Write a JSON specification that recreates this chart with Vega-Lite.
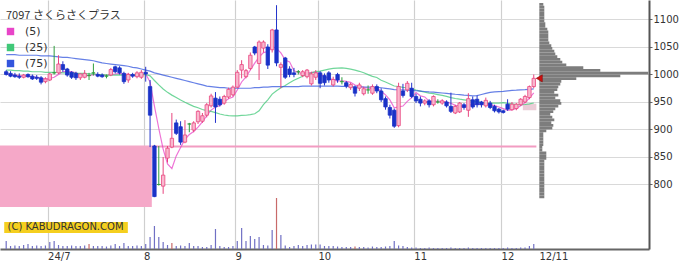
{
"$schema": "https://vega.github.io/schema/vega-lite/v6.json",
"width": 649, "height": 249,
"autosize": "none",
"padding": {"left": 0, "top": 0, "right": 43, "bottom": 20},
"background": "white",
"config": {"view": {"stroke": null}, "font": "DejaVu Sans", "scale": {"continuousPadding": 0}},
"title": {"text": "7097 さくらさくプラス", "anchor": "start", "orient": "top", "offset": -21, "dx": 6, "font": "Noto Sans CJK JP", "fontSize": 11, "fontWeight": "normal", "color": "#333333", "frame": "group"},
"datasets": {
"k": [
{"i":0,"d":"06-17","o":1005,"h":1008,"l":998,"c":1000,"v":80,"m5":1001,"m25":1008,"m75":1036},
{"i":1,"d":"06-18","o":1002,"h":1006,"l":995,"c":997,"v":30,"m5":1000,"m25":1008,"m75":1036},
{"i":2,"d":"06-19","o":999,"h":1003,"l":994,"c":996,"v":35,"m5":999,"m25":1007,"m75":1036},
{"i":3,"d":"06-20","o":997,"h":1002,"l":992,"c":995,"v":30,"m5":998,"m25":1007,"m75":1035},
{"i":4,"d":"06-21","o":995,"h":1001,"l":993,"c":999,"v":40,"m5":997.4,"m25":1006,"m75":1035},
{"i":5,"d":"06-24","o":1000,"h":1002,"l":994,"c":996,"v":50,"m5":996.6,"m25":1006,"m75":1035},
{"i":6,"d":"06-25","o":997,"h":1000,"l":990,"c":992,"v":30,"m5":995.6,"m25":1005,"m75":1035},
{"i":7,"d":"06-26","o":995,"h":999,"l":990,"c":993,"v":35,"m5":995,"m25":1005,"m75":1035},
{"i":8,"d":"06-27","o":994,"h":997,"l":982,"c":986,"v":30,"m5":993.2,"m25":1005,"m75":1034},
{"i":9,"d":"06-28","o":987,"h":995,"l":984,"c":992,"v":35,"m5":991.8,"m25":1004,"m75":1034},
{"i":10,"d":"07-01","o":990,"h":1003,"l":988,"c":1001,"v":70,"m5":992.8,"m25":1004,"m75":1034},
{"i":11,"d":"07-02","o":1003,"h":1052,"l":1000,"c":1003,"v":80,"m5":995,"m25":1004,"m75":1033},
{"i":12,"d":"07-03","o":1003,"h":1035,"l":1001,"c":1019,"v":40,"m5":1000.2,"m25":1004,"m75":1032},
{"i":13,"d":"07-04","o":1018,"h":1024,"l":1005,"c":1009,"v":30,"m5":1004.8,"m25":1003,"m75":1031},
{"i":14,"d":"07-05","o":1010,"h":1012,"l":996,"c":999,"v":30,"m5":1006.2,"m25":1003,"m75":1031},
{"i":15,"d":"07-08","o":1004,"h":1006,"l":992,"c":995,"v":35,"m5":1005,"m25":1003,"m75":1030},
{"i":16,"d":"07-09","o":1002,"h":1005,"l":990,"c":994,"v":30,"m5":1003.2,"m25":1002,"m75":1029},
{"i":17,"d":"07-10","o":994,"h":1002,"l":990,"c":1001,"v":30,"m5":999.6,"m25":1002,"m75":1028},
{"i":18,"d":"07-11","o":995,"h":1008,"l":993,"c":1002,"v":35,"m5":998.2,"m25":1002,"m75":1027},
{"i":19,"d":"07-12","o":998,"h":1003,"l":990,"c":998,"v":50,"f":1,"m5":998,"m25":1001,"m75":1026},
{"i":20,"d":"07-16","o":1003,"h":1020,"l":998,"c":1003,"v":30,"m5":999.6,"m25":1001,"m75":1025},
{"i":21,"d":"07-17","o":1000,"h":1004,"l":995,"c":997,"v":30,"m5":1000.2,"m25":1000,"m75":1023},
{"i":22,"d":"07-18","o":999,"h":1002,"l":994,"c":996,"v":30,"m5":999.2,"m25":1000,"m75":1021},
{"i":23,"d":"07-19","o":997,"h":1000,"l":993,"c":997,"v":25,"m5":998.2,"m25":999,"m75":1020},
{"i":24,"d":"07-22","o":999,"h":1012,"l":997,"c":1009,"v":35,"m5":1000.4,"m25":998.8,"m75":1019},
{"i":25,"d":"07-23","o":1014,"h":1016,"l":1002,"c":1005,"v":50,"m5":1000.8,"m25":999,"m75":1018},
{"i":26,"d":"07-24","o":1012,"h":1015,"l":1000,"c":1003,"v":30,"m5":1002,"m25":999.2,"m75":1017},
{"i":27,"d":"07-25","o":1002,"h":1005,"l":983,"c":987,"v":60,"m5":1000.2,"m25":998.8,"m75":1016},
{"i":28,"d":"07-26","o":990,"h":1003,"l":985,"c":1000,"v":30,"m5":1000.8,"m25":999,"m75":1015},
{"i":29,"d":"07-29","o":1000,"h":1003,"l":994,"c":997,"v":30,"m5":998.4,"m25":999,"m75":1013},
{"i":30,"d":"07-30","o":996,"h":1006,"l":993,"c":1003,"v":35,"m5":998,"m25":999.2,"m75":1012},
{"i":31,"d":"07-31","o":995,"h":1008,"l":992,"c":1004,"v":30,"m5":998.2,"m25":999.7,"m75":1010},
{"i":32,"d":"08-01","o":1004,"h":1014,"l":987,"c":1001,"v":50,"m5":1001,"m25":1000,"m75":1008},
{"i":33,"d":"08-02","o":978,"h":990,"l":868,"c":926,"v":120,"m5":986.2,"m25":997.6,"m75":1006},
{"i":34,"d":"08-05","o":870,"h":872,"l":777,"c":778,"v":230,"m5":942.4,"m25":989.1,"m75":1003},
{"i":35,"d":"08-06","o":800,"h":870,"l":798,"c":800,"v":120,"m5":901.8,"m25":981,"m75":1001},
{"i":36,"d":"08-07","o":797,"h":850,"l":783,"c":817,"v":70,"m5":864.4,"m25":973.6,"m75":999},
{"i":37,"d":"08-08","o":848,"h":870,"l":840,"c":866,"v":40,"m5":837.4,"m25":967.5,"m75":997},
{"i":38,"d":"08-09","o":868,"h":930,"l":866,"c":884,"v":60,"f":1,"m5":829,"m25":962.5,"m75":995},
{"i":39,"d":"08-13","o":912,"h":918,"l":890,"c":893,"v":30,"m5":852,"m25":958.2,"m75":993},
{"i":40,"d":"08-14","o":905,"h":915,"l":872,"c":877,"v":35,"m5":867.4,"m25":953.5,"m75":991},
{"i":41,"d":"08-15","o":877,"h":917,"l":875,"c":890,"v":30,"m5":882,"m25":949.4,"m75":989},
{"i":42,"d":"08-16","o":910,"h":912,"l":895,"c":910,"v":60,"m5":890.8,"m25":945.7,"m75":987},
{"i":43,"d":"08-19","o":899,"h":915,"l":895,"c":912,"v":30,"m5":896.4,"m25":942.1,"m75":985},
{"i":44,"d":"08-20","o":914,"h":935,"l":910,"c":933,"v":30,"m5":904.4,"m25":939.5,"m75":983},
{"i":45,"d":"08-21","o":915,"h":930,"l":912,"c":925,"v":20,"m5":914,"m25":936.4,"m75":981},
{"i":46,"d":"08-22","o":926,"h":948,"l":922,"c":945,"v":20,"m5":925,"m25":934.3,"m75":979},
{"i":47,"d":"08-23","o":943,"h":965,"l":940,"c":961,"v":40,"m5":935.2,"m25":932.9,"m75":978},
{"i":48,"d":"08-26","o":957,"h":968,"l":912,"c":941,"v":200,"m5":941,"m25":930.7,"m75":977},
{"i":49,"d":"08-27","o":955,"h":960,"l":942,"c":945,"v":30,"m5":943.4,"m25":928.1,"m75":976},
{"i":50,"d":"08-28","o":948,"h":963,"l":945,"c":960,"v":20,"m5":950.4,"m25":926.3,"m75":976},
{"i":51,"d":"08-29","o":959,"h":976,"l":956,"c":973,"v":20,"m5":956,"m25":925.1,"m75":975},
{"i":52,"d":"08-30","o":963,"h":980,"l":960,"c":977,"v":30,"m5":959.2,"m25":924.7,"m75":975},
{"i":53,"d":"09-02","o":977,"h":1008,"l":975,"c":1004,"v":80,"m5":971.8,"m25":924.9,"m75":975},
{"i":54,"d":"09-03","o":1008,"h":1026,"l":993,"c":1018,"v":210,"m5":986.4,"m25":925.7,"m75":975},
{"i":55,"d":"09-04","o":996,"h":1010,"l":993,"c":1007,"v":80,"m5":995.8,"m25":925.9,"m75":975},
{"i":56,"d":"09-05","o":1011,"h":1040,"l":1008,"c":1035,"v":130,"m5":1008.2,"m25":927.1,"m75":975},
{"i":57,"d":"09-06","o":1050,"h":1052,"l":1035,"c":1039,"v":100,"m5":1020.6,"m25":928.6,"m75":976},
{"i":58,"d":"09-09","o":1020,"h":1062,"l":990,"c":1059,"v":120,"m5":1031.6,"m25":934,"m75":976},
{"i":59,"d":"09-10","o":1048,"h":1062,"l":1040,"c":1059,"v":40,"m5":1039.8,"m25":945.2,"m75":977},
{"i":60,"d":"09-11","o":1050,"h":1055,"l":1010,"c":1017,"v":35,"m5":1041.8,"m25":953.9,"m75":977},
{"i":61,"d":"09-12","o":1045,"h":1083,"l":1040,"c":1081,"v":190,"m5":1051,"m25":964.4,"m75":978},
{"i":62,"d":"09-13","o":1081,"h":1126,"l":1015,"c":1021,"v":510,"f":1,"m5":1047.4,"m25":970.6,"m75":978},
{"i":63,"d":"09-17","o":1013,"h":1022,"l":975,"c":1018,"v":140,"m5":1039.2,"m25":976,"m75":978},
{"i":64,"d":"09-18","o":1030,"h":1032,"l":992,"c":995,"v":35,"m5":1026.4,"m25":980.1,"m75":978},
{"i":65,"d":"09-19","o":1010,"h":1015,"l":995,"c":1000,"v":20,"m5":1023,"m25":985,"m75":978},
{"i":66,"d":"09-20","o":1003,"h":1012,"l":995,"c":1000,"v":30,"m5":1006.8,"m25":989.4,"m75":978},
{"i":67,"d":"09-24","o":1005,"h":1008,"l":1000,"c":1005,"v":40,"m5":1003.6,"m25":993.2,"m75":978},
{"i":68,"d":"09-25","o":998,"h":1008,"l":995,"c":1005,"v":30,"m5":1001,"m25":996.9,"m75":979},
{"i":69,"d":"09-26","o":996,"h":1010,"l":993,"c":1008,"v":40,"m5":1003.6,"m25":999.9,"m75":979},
{"i":70,"d":"09-27","o":983,"h":1005,"l":980,"c":1001,"v":45,"m5":1003.8,"m25":1003,"m75":979},
{"i":71,"d":"09-30","o":995,"h":1008,"l":990,"c":1003,"v":45,"m5":1004.4,"m25":1005.3,"m75":979},
{"i":72,"d":"10-01","o":1003,"h":1006,"l":975,"c":984,"v":45,"m5":1000.2,"m25":1006.2,"m75":979},
{"i":73,"d":"10-02","o":998,"h":1002,"l":980,"c":985,"v":30,"m5":996.2,"m25":1008,"m75":979},
{"i":74,"d":"10-03","o":1003,"h":1006,"l":985,"c":990,"v":30,"m5":992.6,"m25":1009.8,"m75":978.9},
{"i":75,"d":"10-04","o":981,"h":996,"l":978,"c":991,"v":30,"m5":990.6,"m25":1011,"m75":978.8},
{"i":76,"d":"10-07","o":1000,"h":1003,"l":985,"c":990,"v":25,"m5":988,"m25":1011.7,"m75":978.7},
{"i":77,"d":"10-08","o":987,"h":995,"l":982,"c":987,"v":20,"m5":988.6,"m25":1012.1,"m75":978.5},
{"i":78,"d":"10-09","o":985,"h":988,"l":975,"c":979,"v":20,"m5":987.4,"m25":1011.1,"m75":978.3},
{"i":79,"d":"10-10","o":976,"h":985,"l":972,"c":982,"v":20,"m5":985.8,"m25":1009.6,"m75":978.1},
{"i":80,"d":"10-11","o":977,"h":980,"l":960,"c":966,"v":25,"f":1,"m5":980.8,"m25":1008,"m75":977.7},
{"i":81,"d":"10-15","o":975,"h":985,"l":970,"c":981,"v":20,"m5":979,"m25":1005.8,"m75":977.6},
{"i":82,"d":"10-16","o":965,"h":978,"l":962,"c":974,"v":20,"m5":976.4,"m25":1003.2,"m75":977.3},
{"i":83,"d":"10-17","o":972,"h":980,"l":965,"c":972,"v":15,"m5":975,"m25":999.8,"m75":977.1},
{"i":84,"d":"10-18","o":966,"h":982,"l":963,"c":978,"v":25,"m5":974.2,"m25":996.5,"m75":976.9},
{"i":85,"d":"10-21","o":978,"h":982,"l":966,"c":970,"v":20,"m5":975,"m25":994.6,"m75":976.5},
{"i":86,"d":"10-22","o":970,"h":975,"l":950,"c":954,"v":20,"m5":969.6,"m25":989.6,"m75":975.9},
{"i":87,"d":"10-23","o":956,"h":960,"l":936,"c":941,"v":25,"m5":963,"m25":986.4,"m75":974.8},
{"i":88,"d":"10-24","o":940,"h":945,"l":920,"c":926,"v":30,"m5":953.8,"m25":982.7,"m75":973.7},
{"i":89,"d":"10-25","o":935,"h":938,"l":903,"c":906,"v":80,"m5":939.4,"m25":979.1,"m75":972.5},
{"i":90,"d":"10-28","o":907,"h":985,"l":904,"c":978,"v":35,"m5":941,"m25":978.2,"m75":972.3},
{"i":91,"d":"10-29","o":970,"h":983,"l":958,"c":962,"v":30,"m5":942.6,"m25":976.7,"m75":971.8},
{"i":92,"d":"10-30","o":972,"h":988,"l":968,"c":984,"v":20,"m5":951.2,"m25":975.9,"m75":971.6},
{"i":93,"d":"10-31","o":975,"h":985,"l":957,"c":960,"v":15,"m5":958,"m25":974.1,"m75":971},
{"i":94,"d":"11-01","o":960,"h":965,"l":948,"c":952,"v":15,"m5":967.2,"m25":971.8,"m75":970.4},
{"i":95,"d":"11-05","o":955,"h":960,"l":942,"c":948,"v":10,"m5":961.2,"m25":969.7,"m75":969.7},
{"i":96,"d":"11-06","o":948,"h":955,"l":944,"c":952,"v":10,"m5":959.2,"m25":967.7,"m75":969.1},
{"i":97,"d":"11-07","o":952,"h":955,"l":940,"c":945,"v":15,"m5":951.4,"m25":966.1,"m75":968.4},
{"i":98,"d":"11-08","o":945,"h":962,"l":942,"c":960,"v":10,"m5":951.4,"m25":965.1,"m75":967.9},
{"i":99,"d":"11-11","o":950,"h":955,"l":947,"c":950,"v":10,"m5":951,"m25":963.5,"m75":967.1},
{"i":100,"d":"11-12","o":948,"h":955,"l":945,"c":952,"v":10,"m5":951.8,"m25":962,"m75":966.4},
{"i":101,"d":"11-13","o":950,"h":953,"l":940,"c":943,"v":10,"m5":950,"m25":960.1,"m75":965.6},
{"i":102,"d":"11-14","o":942,"h":967,"l":930,"c":933,"v":15,"m5":947.6,"m25":957.9,"m75":964.9},
{"i":103,"d":"11-15","o":930,"h":945,"l":928,"c":942,"v":10,"m5":944,"m25":956.4,"m75":964.1},
{"i":104,"d":"11-18","o":932,"h":950,"l":930,"c":948,"v":10,"m5":943.6,"m25":955.1,"m75":963.5},
{"i":105,"d":"11-19","o":945,"h":948,"l":936,"c":940,"v":10,"m5":941.2,"m25":954,"m75":962.6},
{"i":106,"d":"11-20","o":935,"h":966,"l":923,"c":956,"v":15,"m5":943.8,"m25":953,"m75":962},
{"i":107,"d":"11-21","o":954,"h":960,"l":938,"c":941,"v":10,"m5":945.4,"m25":951.7,"m75":961.2},
{"i":108,"d":"11-22","o":955,"h":962,"l":940,"c":945,"v":10,"m5":946,"m25":950.6,"m75":961.5},
{"i":109,"d":"11-25","o":950,"h":952,"l":940,"c":945,"v":10,"m5":945.4,"m25":949.3,"m75":963.7},
{"i":110,"d":"11-26","o":943,"h":958,"l":940,"c":953,"v":10,"m5":948,"m25":948.6,"m75":965.7},
{"i":111,"d":"11-27","o":948,"h":952,"l":937,"c":940,"v":10,"m5":944.8,"m25":948.1,"m75":967.4},
{"i":112,"d":"11-28","o":942,"h":945,"l":931,"c":934,"v":10,"m5":943.4,"m25":947.8,"m75":968.3},
{"i":113,"d":"11-29","o":937,"h":939,"l":929,"c":932,"v":10,"m5":940.8,"m25":948,"m75":968.9},
{"i":114,"d":"12-02","o":934,"h":936,"l":929,"c":931,"v":10,"m5":938,"m25":949,"m75":969.4},
{"i":115,"d":"12-03","o":946,"h":955,"l":934,"c":937,"v":15,"m5":934.8,"m25":947.4,"m75":970.2},
{"i":116,"d":"12-04","o":936,"h":950,"l":934,"c":946,"v":10,"m5":936,"m25":946.8,"m75":971},
{"i":117,"d":"12-05","o":938,"h":948,"l":935,"c":946,"v":10,"m5":938.4,"m25":945.2,"m75":971.4},
{"i":118,"d":"12-06","o":945,"h":957,"l":943,"c":955,"v":15,"m5":943,"m25":945,"m75":972},
{"i":119,"d":"12-09","o":950,"h":963,"l":948,"c":960,"v":15,"m5":948.8,"m25":945.4,"m75":972.4},
{"i":120,"d":"12-10","o":958,"h":980,"l":955,"c":978,"v":30,"m5":957,"m25":946.6,"m75":973.1},
{"i":121,"d":"12-11","o":978,"h":1000,"l":975,"c":993,"v":50,"m5":966.4,"m25":948.2,"m75":973.7}
],
"vp": [
{"lo":775,"hi":780,"v":5},{"lo":780,"hi":785,"v":5},{"lo":785,"hi":790,"v":5},{"lo":790,"hi":795,"v":5},
{"lo":795,"hi":800,"v":5},{"lo":800,"hi":805,"v":5},{"lo":805,"hi":810,"v":5},{"lo":810,"hi":815,"v":5},
{"lo":815,"hi":820,"v":5},{"lo":820,"hi":825,"v":5},{"lo":825,"hi":830,"v":5},{"lo":830,"hi":835,"v":5},
{"lo":835,"hi":840,"v":5},{"lo":840,"hi":845,"v":5},{"lo":845,"hi":850,"v":7},{"lo":850,"hi":855,"v":7},
{"lo":855,"hi":860,"v":7},{"lo":860,"hi":865,"v":3},{"lo":865,"hi":870,"v":3},{"lo":870,"hi":875,"v":4},
{"lo":875,"hi":880,"v":4},{"lo":880,"hi":885,"v":4},{"lo":885,"hi":890,"v":4},{"lo":890,"hi":895,"v":4},
{"lo":895,"hi":900,"v":7},{"lo":900,"hi":905,"v":13},{"lo":905,"hi":910,"v":14},{"lo":910,"hi":915,"v":12},
{"lo":915,"hi":920,"v":15},{"lo":920,"hi":925,"v":13},{"lo":925,"hi":930,"v":11},{"lo":930,"hi":935,"v":14},
{"lo":935,"hi":940,"v":16},{"lo":940,"hi":945,"v":19},{"lo":945,"hi":950,"v":22},{"lo":950,"hi":955,"v":21},
{"lo":955,"hi":960,"v":16},{"lo":960,"hi":965,"v":19},{"lo":965,"hi":970,"v":15},{"lo":970,"hi":975,"v":18},
{"lo":975,"hi":980,"v":19},{"lo":980,"hi":985,"v":21},{"lo":985,"hi":990,"v":22},{"lo":990,"hi":995,"v":37},
{"lo":995,"hi":1000,"v":81},{"lo":1000,"hi":1005,"v":109},{"lo":1005,"hi":1010,"v":61},{"lo":1010,"hi":1015,"v":44},
{"lo":1015,"hi":1020,"v":27},{"lo":1020,"hi":1025,"v":23},{"lo":1025,"hi":1030,"v":21},{"lo":1030,"hi":1035,"v":18},
{"lo":1035,"hi":1040,"v":16},{"lo":1040,"hi":1045,"v":15},{"lo":1045,"hi":1050,"v":13},{"lo":1050,"hi":1055,"v":12},
{"lo":1055,"hi":1060,"v":10},{"lo":1060,"hi":1065,"v":9},{"lo":1065,"hi":1070,"v":9},{"lo":1070,"hi":1075,"v":9},
{"lo":1075,"hi":1080,"v":9},{"lo":1080,"hi":1085,"v":8},{"lo":1085,"hi":1090,"v":6},{"lo":1090,"hi":1095,"v":6},
{"lo":1095,"hi":1100,"v":5},{"lo":1100,"hi":1105,"v":5},{"lo":1105,"hi":1110,"v":5},{"lo":1110,"hi":1115,"v":5},
{"lo":1115,"hi":1120,"v":5},{"lo":1120,"hi":1125,"v":5},{"lo":1125,"hi":1130,"v":4}
]
},
"layer": [
{
"data": {"name": "k"},
"encoding": {
"x": {"type": "quantitative", "scale": {"domain": [-1.42, 147.43], "nice": false, "zero": false, "padding": 0},
"axis": {"orient": "bottom", "values": [9.5, 31.5, 52.5, 71.5, 93.5, 113.5], "labelExpr": "datum.value == 9.5 ? '24/7' : datum.value == 31.5 ? '8' : datum.value == 52.5 ? '9' : datum.value == 71.5 ? '10' : datum.value == 93.5 ? '11' : '12'", "ticks": false, "labelAlign": "left", "labelDx": 1, "labelPadding": 2, "labelFontSize": 10, "labelColor": "#333333", "labelFont": "DejaVu Sans", "domainColor": "#666666", "domainWidth": 2, "grid": true, "gridColor": "#cfcfcf", "gridWidth": 1.2, "title": null, "labelFlush": false, "labelOverlap": false, "labelBound": false}},
"y": {"type": "quantitative", "scale": {"domain": [682.7, 1135.45], "nice": false, "zero": false, "padding": 0},
"axis": {"orient": "right", "values": [800, 850, 900, 950, 1000, 1050, 1100], "format": "d", "title": null, "grid": true, "gridColor": "#d9d9d9", "gridWidth": 1, "domainColor": "#555555", "domainWidth": 2, "tickColor": "#666666", "tickSize": 3, "labelPadding": 1, "labelFontSize": 10, "labelColor": "#333333", "labelFont": "DejaVu Sans"}}
},
"layer": [
{
"data": {"values": [{"zone": "gap"}]},
"mark": {"type": "rect", "color": "#f5a8c8", "clip": true},
"encoding": {
"x": {"datum": -1.5},
"x2": {"datum": 33.4},
"y": {"datum": 759},
"y2": {"datum": 871}
}
},
{
"data": {"values": [{"zone": "band"}]},
"mark": {"type": "rect", "color": "#e3b7c6", "opacity": 0.7},
"encoding": {
"x": {"datum": 118.5},
"x2": {"datum": 121.6},
"y": {"datum": 935},
"y2": {"datum": 947}
}
},
{
"data": {"values": [{"zone": "line"}]},
"mark": {"type": "rule", "color": "#f29cc2", "strokeWidth": 2},
"encoding": {
"x": {"datum": 33.4},
"x2": {"datum": 121.6},
"y": {"datum": 869}
}
},
{
"transform": [{"fold": ["m5", "m25", "m75"], "as": ["k", "val"]}],
"mark": {"type": "line", "strokeWidth": 1.2, "opacity": 0.75},
"encoding": {
"x": {"field": "i"},
"y": {"field": "val"},
"color": {"field": "k", "type": "nominal", "scale": {"domain": ["m5", "m25", "m75"], "range": ["#e845c8", "#40c878", "#3355dd"]},
"legend": {"orient": "none", "legendX": 4, "legendY": 25, "title": null, "symbolType": "square", "symbolSize": 55, "symbolOpacity": 1, "symbolStrokeWidth": 0, "labelFont": "DejaVu Sans", "labelFontSize": 11, "labelColor": "#333333", "labelOffset": 9, "rowPadding": 4, "padding": 1, "labelExpr": "datum.label == 'm5' ? '(5)' : datum.label == 'm25' ? '(25)' : '(75)'",
"encode": {"symbols": {"update": {"fill": {"scale": "color", "field": "value"}, "opacity": {"value": 1}, "strokeWidth": {"value": 0}}}}}}
}
},
{
"transform": [{"filter": "datum.c > datum.o"}],
"mark": {"type": "rule", "strokeWidth": 1, "color": "#e8457f"},
"encoding": {"x": {"field": "i"}, "y": {"field": "l"}, "y2": {"field": "h"}}
},
{
"transform": [{"filter": "datum.c < datum.o"}],
"mark": {"type": "rule", "strokeWidth": 1, "color": "#2233cc"},
"encoding": {"x": {"field": "i"}, "y": {"field": "l"}, "y2": {"field": "h"}}
},
{
"transform": [{"filter": "datum.c == datum.o"}],
"mark": {"type": "rule", "strokeWidth": 1, "color": "#2e9e3e"},
"encoding": {"x": {"field": "i"}, "y": {"field": "l"}, "y2": {"field": "h"}}
},
{
"transform": [{"filter": "datum.c > datum.o"}],
"mark": {"type": "bar", "orient": "vertical", "width": 3.4, "fill": "#f9b8cf", "stroke": "#e8457f", "strokeWidth": 0.8},
"encoding": {"x": {"field": "i"}, "y": {"field": "o"}, "y2": {"field": "c"}}
},
{
"transform": [{"filter": "datum.c < datum.o"}],
"mark": {"type": "bar", "orient": "vertical", "width": 3.4, "fill": "#1a32c8", "stroke": "#1a32c8", "strokeWidth": 0.8},
"encoding": {"x": {"field": "i"}, "y": {"field": "o"}, "y2": {"field": "c"}}
},
{
"transform": [{"filter": "datum.c == datum.o"}],
"mark": {"type": "bar", "orient": "vertical", "width": 3.4, "fill": "#2e9e3e", "stroke": "#2e9e3e", "strokeWidth": 0.8},
"encoding": {"x": {"field": "i"}, "y": {"field": "o"}, "y2": {"field": "c"}}
},
{
"data": {"values": [{"t": "(C) KABUDRAGON.COM"}]},
"mark": {"type": "rect", "color": "#f5cf1f"},
"encoding": {
"x": {"datum": -0.45},
"x2": {"datum": 27.9},
"y": {"datum": 711.8},
"y2": {"datum": 731.8}
}
},
{
"data": {"values": [{"t": "(C) KABUDRAGON.COM"}]},
"mark": {"type": "text", "align": "left", "baseline": "middle", "fontSize": 10, "font": "DejaVu Sans", "color": "#333333"},
"encoding": {
"x": {"datum": 0.3},
"y": {"datum": 721.8},
"text": {"field": "t"}
}
},
{
"data": {"values": [{"t": "12/11"}]},
"mark": {"type": "text", "align": "left", "baseline": "top", "fontSize": 10, "font": "DejaVu Sans", "color": "#333333", "dy": 3},
"encoding": {
"x": {"datum": 122.3},
"y": {"datum": 682.7},
"text": {"field": "t"}
}
}
]
},
{
"data": {"name": "k"},
"mark": {"type": "bar", "orient": "vertical", "width": 1.2},
"encoding": {
"x": {"field": "i", "type": "quantitative", "scale": {"domain": [-1.42, 147.43], "nice": false, "zero": false, "padding": 0}, "axis": null},
"y": {"field": "v", "type": "quantitative", "scale": {"domain": [0, 2490], "nice": false, "padding": 0}, "axis": null},
"color": {"condition": {"test": "datum.f == 1", "value": "#c86a6a"}, "value": "#7070c4"}
}
},
{
"data": {"name": "vp"},
"mark": {"type": "rect", "color": "#7d7d7d"},
"encoding": {
"x": {"field": "v", "type": "quantitative", "scale": {"domain": [-539.3, 109.7], "nice": false, "zero": false, "padding": 0}, "axis": null},
"x2": {"datum": 0},
"y": {"field": "lo", "type": "quantitative", "scale": {"domain": [682.7, 1135.45], "nice": false, "zero": false, "padding": 0}, "axis": null},
"y2": {"field": "hi"}
}
},
{
"data": {"name": "k"},
"transform": [{"filter": "datum.i == 121"}],
"mark": {"type": "point", "shape": "triangle-left", "filled": true, "size": 50, "color": "#cc1111", "stroke": "#880000", "strokeWidth": 0.5, "opacity": 1, "xOffset": 5.5},
"encoding": {
"x": {"field": "i", "type": "quantitative", "scale": {"domain": [-1.42, 147.43], "nice": false, "zero": false, "padding": 0}, "axis": null},
"y": {"field": "c", "type": "quantitative", "scale": {"domain": [682.7, 1135.45], "nice": false, "zero": false, "padding": 0}, "axis": null}
}
}
],
"resolve": {"scale": {"x": "independent", "y": "independent"}}
}
